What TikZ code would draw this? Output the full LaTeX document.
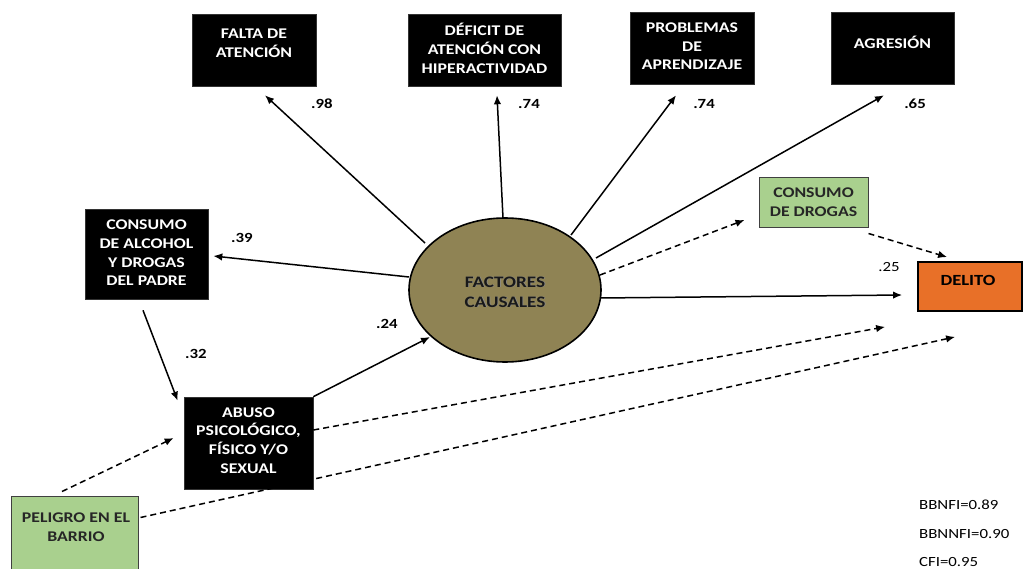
\documentclass[tikz,border=0pt]{standalone}
\usepackage{fontspec}
\setmainfont[FakeStretch=1.2]{Carlito}
\usetikzlibrary{arrows.meta,calc,shapes.geometric}
\definecolor{ellfill}{RGB}{143,131,84}
\definecolor{greenfill}{RGB}{169,208,142}
\definecolor{orangefill}{RGB}{232,112,40}
\begin{document}
\begin{tikzpicture}[x=1pt,y=-1pt,
  box/.style={rectangle, draw=black!80, fill=black, inner sep=0pt, line width=0.6pt},
  gbox/.style={rectangle, draw=black!75, fill=greenfill, inner sep=0pt, line width=1pt},
  btxt/.style={text=white, font=\bfseries\fontsize{14.8}{18.7}\selectfont, align=center, inner sep=0pt},
  dtxt/.style={text=black!85, font=\bfseries\fontsize{14.8}{18.7}\selectfont, align=center, inner sep=0pt},
  sol/.style={line width=1.5pt, -{Latex[length=9pt,width=7.5pt]}},
  das/.style={sol, dash pattern=on 6pt off 4pt},
  coef/.style={font=\bfseries\fontsize{14}{14}\selectfont, inner sep=0pt},
  fit/.style={font=\fontsize{14}{14}\selectfont, inner sep=0pt, anchor=west}]
\useasboundingbox (0,0) rectangle (1028,569);
% boxes
\node[box, minimum width=124pt, minimum height=72pt] (falta) at (254,50) {};
\node[btxt] (faltat) at (254,43) {FALTA DE\\ATENCIÓN};
\node[box, minimum width=153pt, minimum height=72pt] (def) at (484.5,50) {};
\node[btxt] (deft) at (484.5,48.5) {DÉFICIT DE\\ATENCIÓN CON\\HIPERACTIVIDAD};
\node[box, minimum width=124pt, minimum height=72pt] (prob) at (692,48) {};
\node[btxt] (probt) at (692,46.5) {PROBLEMAS\\DE\\APRENDIZAJE};
\node[box, minimum width=123pt, minimum height=72pt] (agr) at (892.5,48) {};
\node[btxt] (agrt) at (892.5,42) {AGRESIÓN};
\node[box, minimum width=123pt, minimum height=90pt] (alc) at (146.5,254) {};
\node[btxt] (alct) at (146.5,253) {CONSUMO\\DE ALCOHOL\\Y DROGAS\\DEL PADRE};
\node[box, minimum width=129pt, minimum height=92pt] (abuso) at (248.5,443) {};
\node[btxt] (abusot) at (248.5,440.5) {ABUSO\\PSICOLÓGICO,\\FÍSICO Y/O\\SEXUAL};
\node[gbox, minimum width=127pt, minimum height=104pt] (pel) at (74.5,548) {};
\node[dtxt] (pelt) at (76,527.5) {PELIGRO EN EL\\BARRIO};
\node[gbox, minimum width=109pt, minimum height=50pt] (cd) at (813.5,203) {};
\node[dtxt] (cdt) at (813.5,202) {CONSUMO\\DE DROGAS};
\node[rectangle, draw=black, fill=orangefill, line width=1.8pt, inner sep=0pt, minimum width=104pt, minimum height=49pt] (del) at (970,286.5) {};
\node[dtxt, text=black, font=\bfseries\fontsize{15.5}{18.7}\selectfont] (delt) at (968,280) {DELITO};
% ellipse
\node[ellipse, draw=black, fill=ellfill, line width=1.6pt, minimum width=192pt, minimum height=144pt, inner sep=0pt] (ell) at (505,290) {};
\node[dtxt, text=black!45, font=\bfseries\fontsize{16}{20}\selectfont] (ellsh) at (505.8,292.8) {FACTORES\\CAUSALES};
\node[dtxt, text=black!90, font=\bfseries\fontsize{16}{20}\selectfont] (ellt) at (505,292) {FACTORES\\CAUSALES};
% solid arrows
\draw[sol] ($(ell.center)+(-80,-47)$) -- ($(falta.south)+(11,9)$);
\draw[sol] ($(ell.center)+(-2,-72)$) -- ($(def.south)+(12.5,9)$);
\draw[sol] ($(ell.center)+(66,-55)$) -- ($(prob.south)+(-16,11)$);
\draw[sol] ($(ell.center)+(91,-32)$) -- ($(agr.south)+(-8.5,11)$);
\draw[sol] ($(ell.center)+(-96,-13)$) -- ($(alc.east)+(5,2)$);
\draw[sol] ($(ell.center)+(95,8)$) -- ($(del.west)+(-15,8.5)$);
\draw[sol] ($(alc.south)+(-3.5,11)$) -- ($(abuso.north west)+(-6,4)$);
\draw[sol] (abuso.north east) -- ($(ell.center)+(-75,47)$);
% dashed arrows
\draw[das] ($(ell.center)+(95,-15)$) -- ($(cd.west)+(-14,17)$);
\draw[das] ($(cd.south east)+(0,5)$) -- ($(del.north west)+(30,-4)$);
\draw[das] ($(abuso.east)+(0,-13)$) -- ($(del.south west)+(-32,15)$);
\draw[das] ($(pel.north east)+(2,22)$) -- ($(del.south west)+(38,25)$);
\draw[das] ($(pel.north)+(-12.5,-4)$) -- ($(abuso.west)+(-10,-5)$);
% coefficients
\node[coef] (c1) at (322,104) {.98};
\node[coef] (c2) at (529,104) {.74};
\node[coef] (c3) at (704,104) {.74};
\node[coef] (c4) at (915,104) {.65};
\node[coef] (c5) at (242,238) {.39};
\node[coef] (c6) at (196,354) {.32};
\node[coef] (c7) at (387,324) {.24};
\node[coef, font=\fontsize{14}{14}\selectfont] (c8) at (889,267) {.25};
% fit indices
\node[fit] (f1) at (919,505) {BBNFI=0.89};
\node[fit] (f2) at (919,534) {BBNNFI=0.90};
\node[fit] (f3) at (919,562) {CFI=0.95};
\end{tikzpicture}
\end{document}
